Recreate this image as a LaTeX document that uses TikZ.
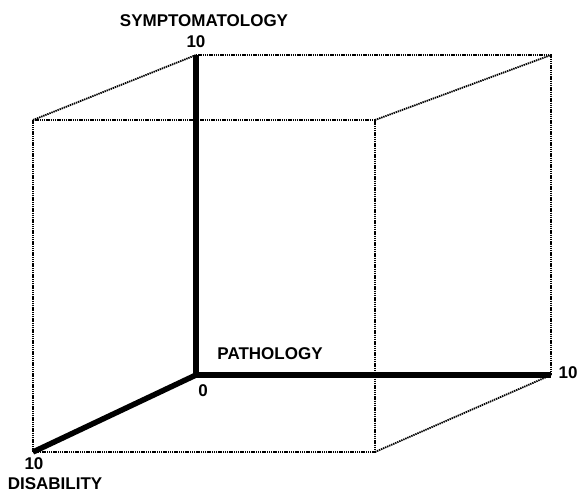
\documentclass[tikz,border=0pt]{standalone}
\usepackage{fontspec}
\setmainfont{Liberation Sans}
\begin{document}
\begin{tikzpicture}[x=1pt,y=-1pt,
  edge/.style={line width=1.8pt,dash pattern=on 1.4pt off 0.8pt},
  axis/.style={line width=5.5pt},
  lbl/.style={font=\bfseries\fontsize{17}{17}\selectfont,inner sep=0pt}]
\useasboundingbox (0,0) rectangle (581,494);
% back face corners
\coordinate (O) at (196,375);
\coordinate (S) at (196,55);
\coordinate (P) at (551,375);
\coordinate (BR) at (551,55);
% front face corners
\coordinate (D) at (33,452);
\coordinate (FTL) at (33,120);
\coordinate (FTR) at (375,120);
\coordinate (FBR) at (375,452);
% dotted cube edges
\draw[edge] (S) -- (BR) -- (P);
\draw[edge] (FTL) -- (FTR) -- (FBR) -- (D) -- (FTL);
\draw[edge] (FTL) -- (S);
\draw[edge] (FTR) -- (BR);
\draw[edge] (FBR) -- (P);
% axes
\draw[axis] (O) -- (S);
\draw[axis] (O) -- (P);
\draw[axis] (O) -- (D);
% labels
\node[lbl] (symlab) at (204,21) {SYMPTOMATOLOGY};
\node[lbl] (s10) at (196,42) {10};
\node[lbl] (patlab) at (270,354) {PATHOLOGY};
\node[lbl] (zero) at (203,391) {0};
\node[lbl] (p10) at (568,373) {10};
\node[lbl] (d10) at (34,464) {10};
\node[lbl] (dislab) at (55,484) {DISABILITY};
\end{tikzpicture}
\end{document}
